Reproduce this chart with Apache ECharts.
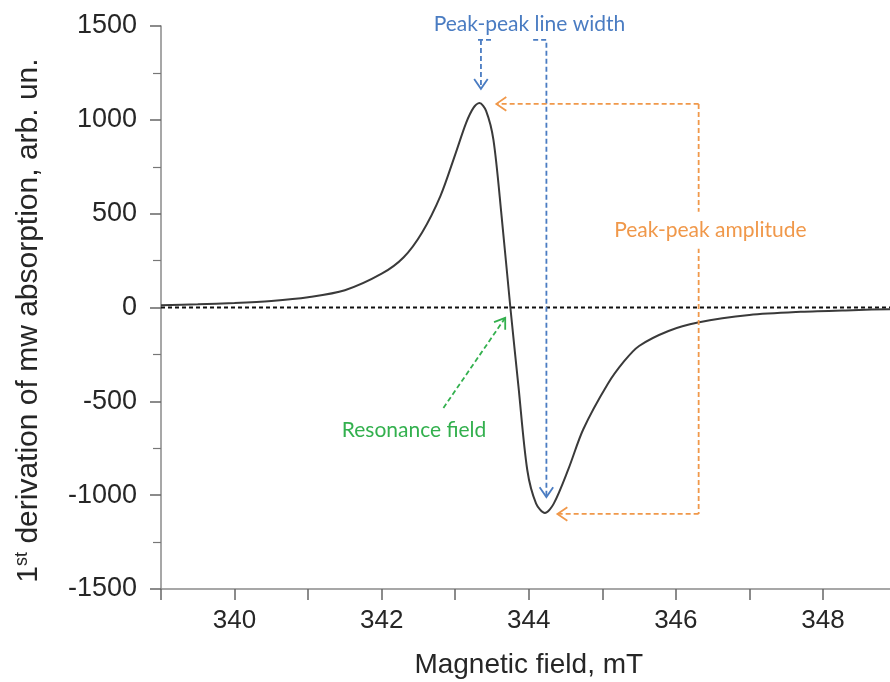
<!DOCTYPE html>
<html>
<head>
<meta charset="utf-8">
<script src="https://cdn.jsdelivr.net/npm/echarts@6/dist/echarts.min.js"></script>
<style>
  html, body { margin: 0; padding: 0; background: #fff; }
  #chart { width: 890px; height: 682px; }
</style>
</head>
<body>
<div id="chart"></div>
<script>
// magnetic field (mT) and 1st derivative signal
const field = [339.0, 339.5, 340.0, 340.5, 341.0, 341.5, 342.0, 342.3, 342.55, 342.8, 343.0,
  343.15, 343.25, 343.33, 343.42, 343.52, 343.63, 343.75, 343.86, 343.98, 344.10, 344.22,
  344.34, 344.54, 344.74, 345.07, 345.3, 345.5, 345.9, 346.3, 347.0, 347.7, 348.4, 349.0];
const signal = [12, 17, 24, 35, 55, 92, 180, 268, 400, 595, 815,
  985, 1065, 1090, 1048, 893, 490, 0, -420, -866, -1045, -1095,
  -1045, -860, -650, -410, -285, -205, -125, -80, -40, -23, -14, -8];
const xTicks = { min: 339, max: 349, step: 2 };
const yTicks = { min: -1500, max: 1500, step: 500 };

// annotation anchors in data units
const widthLeft = [[343.31, 1426], [343.50, 1426]];
const widthLeftDrop = [[343.35, 1426], [343.35, 1165]];
const widthRight = [[344.06, 1426], [344.24, 1426], [344.24, -1010]];
const ampTop = [[346.31, 1085], [343.56, 1085]];
const ampSide = [[346.31, 1085], [346.31, -1100]];
const ampBottom = [[346.31, -1100], [344.39, -1100]];
const resArrow = [[342.84, -535], [343.68, -55]];

const blue = '#4a7cc2', orange = '#f0984a', green = '#33b04e';

const chart = echarts.init(document.getElementById('chart'));
chart.setOption({
  animation: false,
  grid: { left: 161, right: -6.5, top: 26, bottom: 93, outerBoundsMode: 'none' },
  xAxis: {
    type: 'value', min: xTicks.min, max: xTicks.max, interval: 1,
    name: 'Magnetic field, mT', nameLocation: 'middle', nameGap: 62,
    nameTextStyle: { fontFamily: 'Liberation Sans', fontSize: 28, color: '#262626' },
    axisLine: { onZero: false, lineStyle: { color: '#8a8a8a', width: 1.5 } },
    axisTick: { length: 11, lineStyle: { color: '#666', width: 1.5 } },
    axisLabel: {
      margin: 19, fontFamily: 'Liberation Sans', fontSize: 26, color: '#262626',
      formatter: v => ((v - xTicks.min) % xTicks.step === 1 ? String(v) : '')
    },
    splitLine: { show: false }
  },
  yAxis: {
    type: 'value', min: yTicks.min, max: yTicks.max, interval: yTicks.step,
    name: '{b|1}{s|st}{b| derivation of mw absorption, arb. un.}',
    nameLocation: 'middle', nameGap: 116,
    nameTextStyle: {
      padding: [0, 26, 0, 0],
      rich: {
        b: { fontFamily: 'Liberation Sans', fontSize: 30, color: '#262626', lineHeight: 32 },
        s: { fontFamily: 'Liberation Sans', fontSize: 18, color: '#262626', verticalAlign: 'top', lineHeight: 32 }
      }
    },
    axisLine: { onZero: false, lineStyle: { color: '#8a8a8a', width: 1.5 } },
    axisTick: { length: 11, lineStyle: { color: '#666', width: 1.5 } },
    minorTick: { show: true, splitNumber: 2, length: 8, lineStyle: { color: '#777', width: 1.2 } },
    axisLabel: {
      margin: 24, fontFamily: 'Liberation Sans', fontSize: 27, color: '#262626',
      formatter: v => String(v)
    },
    splitLine: { show: false }
  },
  series: [
    {
      type: 'line', data: field.map((f, i) => [f, signal[i]]),
      smooth: 0.3, symbol: 'none',
      lineStyle: { color: '#3a3a3a', width: 2 }, z: 3
    },
    {
      type: 'line', data: [[xTicks.min, 0], [xTicks.max, 0]], symbol: 'none',
      lineStyle: { color: '#111', width: 1.8, type: [4, 3] }, z: 2
    }
  ]
});

// annotations drawn through the grid's coordinate system
const px = p => chart.convertToPixel({ seriesIndex: 0 }, p);
const dashed = (pts, color) => ({
  type: 'polyline', z: 10, silent: true,
  shape: { points: pts.map(px) },
  style: { stroke: color, lineWidth: 1.8, lineDash: [5, 3], fill: null }
});
const head = (from, to, color) => {
  const a = px(from), b = px(to);
  const ang = Math.atan2(a[1] - b[1], a[0] - b[0]), len = 12, spread = 0.6;
  return {
    type: 'polyline', z: 11, silent: true,
    shape: { points: [
      [b[0] + len * Math.cos(ang + spread), b[1] + len * Math.sin(ang + spread)], b,
      [b[0] + len * Math.cos(ang - spread), b[1] + len * Math.sin(ang - spread)]
    ] },
    style: { stroke: color, lineWidth: 1.8, fill: null }
  };
};
const label = (text, at, color, bg) => {
  const p = px(at);
  return {
    type: 'text', z: 12, silent: true, x: p[0], y: p[1],
    style: {
      text, fill: color, font: '21px Lato', align: 'center', verticalAlign: 'middle',
      backgroundColor: bg || null, padding: bg ? [8, 4] : 0
    }
  };
};

chart.setOption({
  graphic: [
    dashed(widthLeft, blue), dashed(widthLeftDrop, blue), head(widthLeftDrop[0], widthLeftDrop[1], blue),
    dashed(widthRight, blue), head(widthRight[1], widthRight[2], blue),
    dashed(ampTop, orange), head(ampTop[0], ampTop[1], orange),
    dashed(ampSide, orange),
    dashed(ampBottom, orange), head(ampBottom[0], ampBottom[1], orange),
    dashed(resArrow, green), head(resArrow[0], resArrow[1], green),
    label('Peak-peak line width', [344.01, 1511], blue),
    label('Peak-peak amplitude', [346.47, 412], orange, '#fff'),
    label('Resonance field', [342.44, -653], green)
  ]
});
</script>
</body>
</html>
